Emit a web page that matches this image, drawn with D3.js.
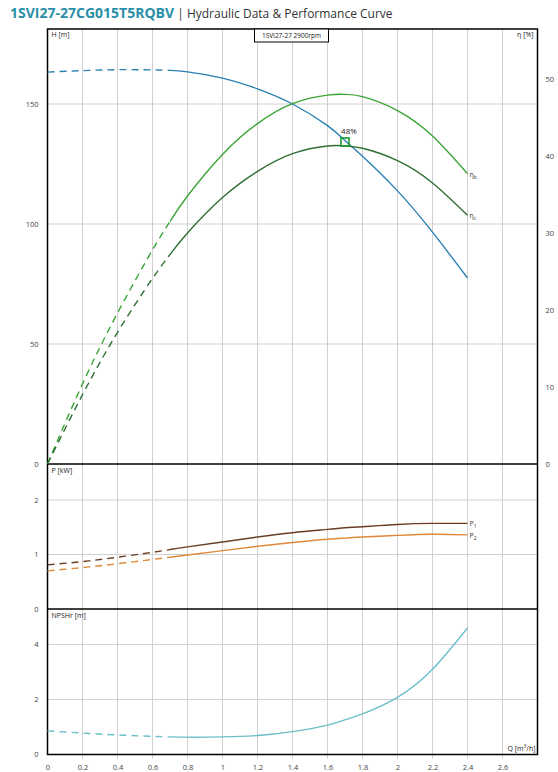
<!DOCTYPE html>
<html><head><meta charset="utf-8">
<script src="https://cdn.jsdelivr.net/npm/d3@7"></script>
<style>
body{margin:0;background:#fff;}
svg{display:block;font-family:"Open Sans",sans-serif;}
</style></head>
<body><div id="chart"></div>
<script>
// ---- data ----
const Q      = [0, 0.2, 0.4, 0.6, 0.7, 0.8, 1.0, 1.2, 1.4, 1.6, 1.7, 1.8, 2.0, 2.2, 2.4];
const head   = [163.3, 163.9, 164.3, 164.2, 164.0, 163.4, 160.8, 156.3, 150.0, 141.0, 134.8, 128.2, 113.8, 96.6, 77.5];
const etaB   = [0, 10.4, 19.6, 27.8, 31.5, 34.8, 40.2, 44.2, 46.8, 47.9, 48.0, 47.7, 45.9, 42.6, 37.7];
const etaC   = [0, 9.0, 17.1, 24.1, 27.2, 30.0, 34.6, 38.0, 40.3, 41.3, 41.3, 41.0, 39.4, 36.5, 32.3];
const p1     = [0.81, 0.87, 0.95, 1.04, 1.09, 1.14, 1.23, 1.32, 1.40, 1.46, 1.49, 1.51, 1.55, 1.57, 1.57];
const p2     = [0.70, 0.76, 0.83, 0.91, 0.95, 0.99, 1.07, 1.15, 1.22, 1.28, 1.30, 1.32, 1.35, 1.37, 1.36];
const npsh   = [0.86, 0.78, 0.71, 0.66, 0.64, 0.63, 0.64, 0.69, 0.83, 1.07, 1.26, 1.48, 2.08, 3.10, 4.60];
const xTicks = [0, 0.2, 0.4, 0.6, 0.8, 1, 1.2, 1.4, 1.6, 1.8, 2, 2.2, 2.4, 2.6];
const hTicks = [0, 50, 100, 150];
const etaTicks = [0, 10, 20, 30, 40, 50];
const pTicks = [0, 1, 2];
const nTicks = [0, 2, 4];
const solidFrom = 0.7;
const bep = {q: 1.7, h: 134.2, label: "48%"};
const titleBold = "1SVI27-27CG015T5RQBV";
const titleRest = " | Hydraulic Data & Performance Curve";
const boxLabel = "1SVI27-27 2900rpm";

// ---- layout ----
const W = 558, Hh = 772;
const L = 47.5, R = 537.5;
const t1 = 29, b1 = 464, b2 = 609, b3 = 754.5;
const svg = d3.select("#chart").append("svg").attr("width", W).attr("height", Hh);

const x = d3.scaleLinear().domain([0, 2.8]).range([L, R]);
const yH = d3.scaleLinear().domain([0, 181.25]).range([b1, t1]);
const yE = d3.scaleLinear().domain([0, 56.49]).range([b1, t1]);
const yP = d3.scaleLinear().domain([0, 2.66]).range([b2, b1]);
const yN = d3.scaleLinear().domain([0, 5.29]).range([b3, b2]);

// clip regions for dashed / solid parts
const defs = svg.append("defs");
defs.append("clipPath").attr("id", "clipDash").append("rect")
  .attr("x", 0).attr("y", 0).attr("width", x(solidFrom)).attr("height", Hh);
defs.append("clipPath").attr("id", "clipSolid").append("rect")
  .attr("x", x(solidFrom)).attr("y", 0).attr("width", W - x(solidFrom)).attr("height", Hh);

const grid = "#d0d0d0";
svg.append("g").selectAll("line").data(xTicks.filter(d => d > 0)).join("line")
  .attr("x1", d => x(d)).attr("x2", d => x(d)).attr("y1", t1).attr("y2", b3 + 4)
  .attr("stroke", grid).attr("stroke-width", 1);
function hgrid(scale, ticks) {
  svg.append("g").selectAll("line").data(ticks.filter(d => d > 0)).join("line")
    .attr("x1", L).attr("x2", R).attr("y1", d => scale(d)).attr("y2", d => scale(d))
    .attr("stroke", grid).attr("stroke-width", 1);
}
hgrid(yH, hTicks); hgrid(yP, pTicks); hgrid(yN, nTicks);

const fmt = d3.format("");
const tickStyle = g => {
  g.select(".domain").remove();
  g.selectAll(".tick line").remove();
  g.selectAll("text").attr("fill", "#444").attr("font-size", "7.5px").attr("font-family", "Open Sans, sans-serif");
};
svg.append("g").attr("transform", `translate(${L},0)`).call(d3.axisLeft(yH).tickValues(hTicks).tickFormat(fmt).tickPadding(3)).call(tickStyle);
svg.append("g").attr("transform", `translate(${R},0)`).call(d3.axisRight(yE).tickValues(etaTicks).tickFormat(fmt).tickPadding(2)).call(tickStyle);
svg.append("g").attr("transform", `translate(${L},0)`).call(d3.axisLeft(yP).tickValues(pTicks).tickFormat(fmt).tickPadding(3)).call(tickStyle);
svg.append("g").attr("transform", `translate(${L},0)`).call(d3.axisLeft(yN).tickValues(nTicks).tickFormat(fmt).tickPadding(3)).call(tickStyle);
svg.append("g").attr("transform", `translate(0,${b3})`).call(d3.axisBottom(x).tickValues(xTicks).tickFormat(fmt).tickPadding(4)).call(tickStyle);

const frame = svg.append("g").attr("fill", "none").attr("stroke", "#000").attr("stroke-width", 1.5);
frame.append("rect").attr("x", L).attr("y", t1).attr("width", R - L).attr("height", b3 - t1);
frame.append("line").attr("x1", L).attr("x2", R).attr("y1", b1).attr("y2", b1);
frame.append("line").attr("x1", L).attr("x2", R).attr("y1", b2).attr("y2", b2);

function drawSeries(vals, yScale, color, width) {
  const pts = Q.map((q, i) => [q, vals[i]]);
  const line = d3.line().x(d => x(d[0])).y(d => yScale(d[1])).curve(d3.curveNatural);
  svg.append("path").datum(pts).attr("d", line).attr("clip-path", "url(#clipDash)")
    .attr("fill", "none").attr("stroke", color).attr("stroke-width", width).attr("stroke-dasharray", "7,5");
  svg.append("path").datum(pts).attr("d", line).attr("clip-path", "url(#clipSolid)")
    .attr("fill", "none").attr("stroke", color).attr("stroke-width", width);
}
drawSeries(head, yH, "#2b80b3", 1.4);
drawSeries(etaB, yE, "#3aa535", 1.4);
drawSeries(etaC, yE, "#2f6f35", 1.4);
drawSeries(p1, yP, "#6b3d22", 1.4);
drawSeries(p2, yP, "#e0893a", 1.4);
drawSeries(npsh, yN, "#6cbfc8", 1.4);

function endLabel(txt, sub, xv, yv) {
  const t = svg.append("text").attr("x", x(xv) + 2).attr("y", yv + 3).attr("font-size", "7px").attr("fill", "#333");
  t.append("tspan").text(txt);
  t.append("tspan").attr("font-size", "5px").attr("dy", 2).text(sub);
}
const last = Q.length - 1;
endLabel("η", "b", Q[last], yE(etaB[last]));
endLabel("η", "c", Q[last], yE(etaC[last]));
endLabel("P", "1", Q[last], yP(p1[last]));
endLabel("P", "2", Q[last], yP(p2[last]));

svg.append("rect").attr("x", x(bep.q) - 4).attr("y", yH(bep.h) - 4).attr("width", 8).attr("height", 8)
  .attr("fill", "none").attr("stroke", "#1f9a2a").attr("stroke-width", 1.6);
svg.append("text").attr("x", x(bep.q) + 4).attr("y", yH(bep.h) - 8).attr("text-anchor", "middle")
  .attr("font-size", "8px").attr("fill", "#222").text(bep.label);

svg.append("text").attr("x", L + 4).attr("y", t1 + 8).attr("font-size", "7px").attr("fill", "#222").text("H [m]");
svg.append("text").attr("x", R - 4).attr("y", t1 + 8).attr("font-size", "7px").attr("fill", "#222").attr("text-anchor", "end").text("η [%]");
svg.append("text").attr("x", L + 4).attr("y", b1 + 9).attr("font-size", "7px").attr("fill", "#222").text("P [kW]");
svg.append("text").attr("x", L + 4).attr("y", b2 + 9).attr("font-size", "7px").attr("fill", "#222").text("NPSHr [m]");
const ql = svg.append("text").attr("x", R - 2).attr("y", b3 - 4).attr("font-size", "7px").attr("fill", "#222").attr("text-anchor", "end");
ql.append("tspan").text("Q [m");
ql.append("tspan").attr("font-size", "5px").attr("dy", -3).text("3");
ql.append("tspan").attr("dy", 3).text("/h]");

svg.append("rect").attr("x", 254.5).attr("y", t1).attr("width", 74).attr("height", 13)
  .attr("fill", "#fff").attr("stroke", "#000").attr("stroke-width", 1);
svg.append("text").attr("x", 291.5).attr("y", t1 + 9).attr("text-anchor", "middle").attr("font-size", "6.5px").attr("fill", "#222").text(boxLabel);

const tt = svg.append("text").attr("x", 10).attr("y", 18);
tt.append("tspan").attr("font-weight", "bold").attr("font-size", "14px").attr("fill", "#2a8ea8").text(titleBold);
tt.append("tspan").attr("font-size", "12px").attr("fill", "#333").text(titleRest);
</script></body></html>
